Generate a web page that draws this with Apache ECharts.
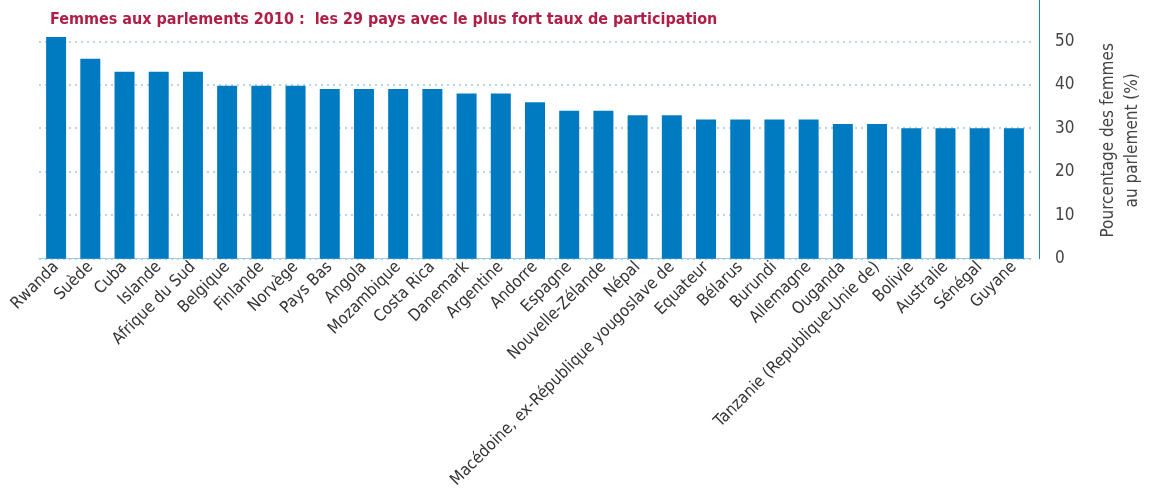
<!DOCTYPE html>
<html>
<head>
<meta charset="utf-8">
<script src="https://cdn.jsdelivr.net/npm/echarts@6/dist/echarts.min.js"></script>
<style>
  html, body { margin: 0; padding: 0; background: #fff; }
  #main { width: 1153px; height: 491px; }
</style>
</head>
<body>
<div id="main"></div>
<script>
// pays classés par taux de participation
const countries = ['Rwanda', 'Suède', 'Cuba', 'Islande', 'Afrique du Sud', 'Belgique', 'Finlande', 'Norvège',
  'Pays Bas', 'Angola', 'Mozambique', 'Costa Rica', 'Danemark', 'Argentine', 'Andorre', 'Espagne',
  'Nouvelle-Zélande', 'Népal', 'Macédoine, ex-République yougoslave de', 'Equateur', 'Bélarus', 'Burundi',
  'Allemagne', 'Ouganda', 'Tanzanie (Republique-Unie de)', 'Bolivie', 'Australie', 'Sénégal', 'Guyane']
const shares = [51, 46, 43, 43, 43, 39.8, 39.8, 39.8, 39, 39, 39, 39, 38, 38, 36, 34, 34, 33, 33,
  32, 32, 32, 32, 31, 31, 30, 30, 30, 30]
const yTicks = [0, 10, 20, 30, 40, 50]

const font = '"DejaVu Sans Condensed", "Liberation Sans", sans-serif'
const chart = echarts.init(document.getElementById('main'))

chart.setOption({
  animation: false,
  title: {
    text: 'Femmes aux parlements 2010 :  les 29 pays avec le plus fort taux de participation',
    left: 45,
    top: 7,
    textStyle: { color: '#b01e45', fontSize: 16, fontWeight: 'bold', fontFamily: font }
  },
  grid: { left: 39, right: 122, top: 0, bottom: 232 },
  xAxis: {
    type: 'category',
    data: countries,
    axisLine: { lineStyle: { color: '#9cc8e6', width: 1 } },
    axisTick: { show: false },
    axisLabel: {
      interval: 0,
      rotate: 45,
      margin: 6,
      color: '#333',
      fontSize: 16.5,
      fontFamily: font
    }
  },
  yAxis: {
    type: 'value',
    position: 'right',
    offset: 8,
    min: 0,
    max: 59.5,
    interval: 10,
    axisLine: { show: true, lineStyle: { color: '#1a7fc4', width: 1 } },
    axisTick: { show: false },
    axisLabel: {
      margin: 16,
      color: '#444',
      fontSize: 17,
      fontFamily: font,
      showMaxLabel: false,
      formatter: v => (yTicks.includes(v) ? String(v) : '')
    },
    splitLine: {
      showMaxLine: false,
      lineStyle: { color: '#b5d6ee', type: [2, 4], width: 2 }
    },
    name: 'Pourcentage des femmes\nau parlement (%)',
    nameLocation: 'middle',
    nameRotate: 90,
    nameGap: 58,
    nameTextStyle: { color: '#444', fontSize: 17, fontFamily: font, lineHeight: 24, padding: [0, 22, 0, 0] }
  },
  series: [{
    type: 'bar',
    data: shares,
    barWidth: 20,
    itemStyle: { color: '#007bc2' }
  }]
})
</script>
</body>
</html>
